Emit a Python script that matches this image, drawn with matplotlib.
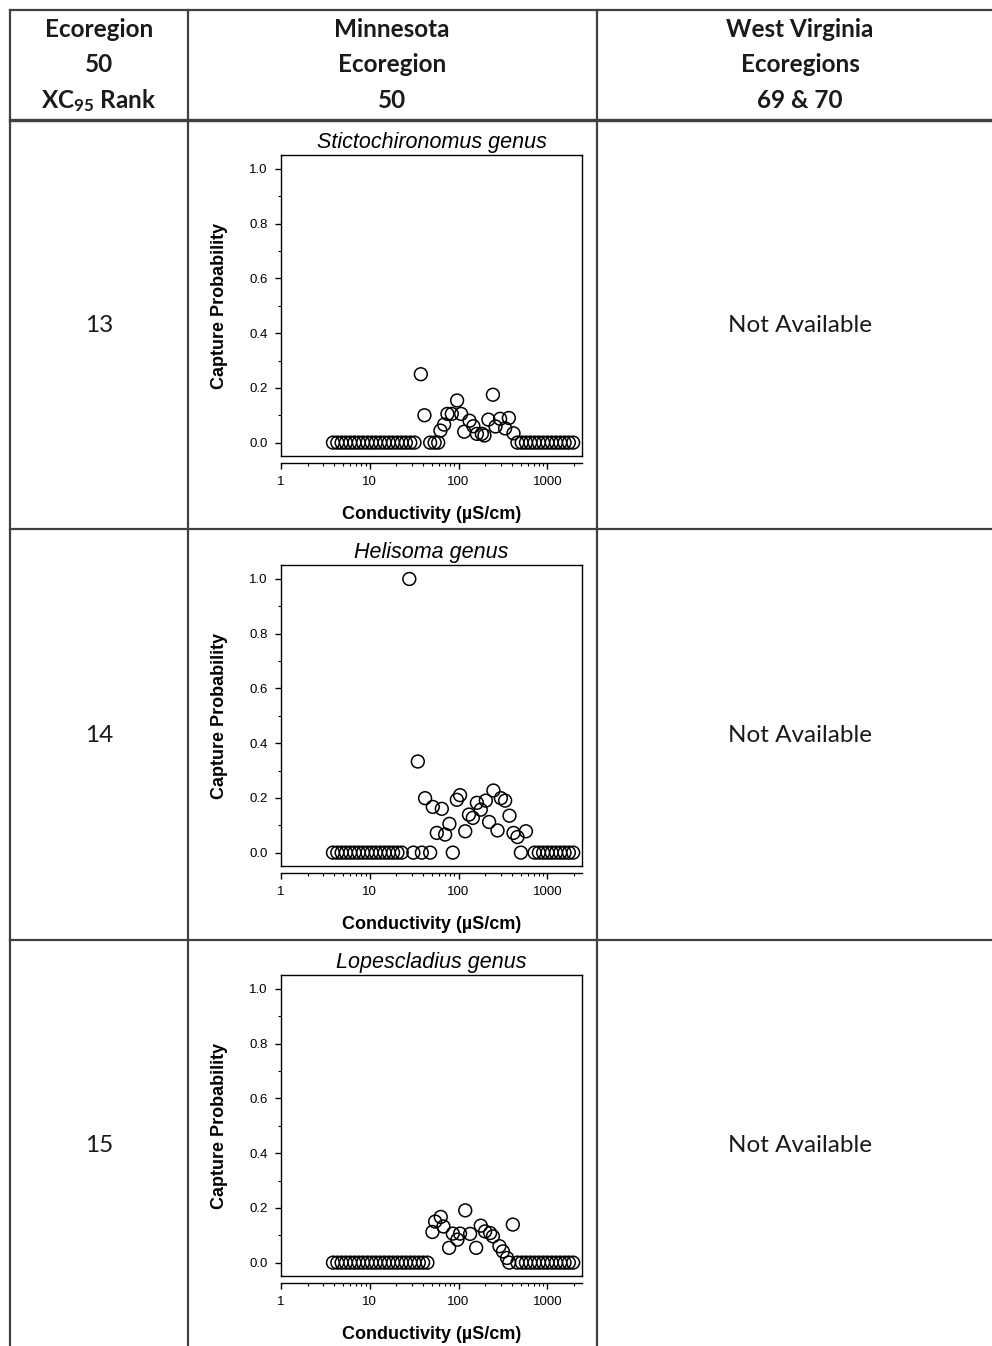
import matplotlib
matplotlib.use("Agg")
import matplotlib.pyplot as plt
from matplotlib.lines import Line2D
from matplotlib.ticker import LogLocator, NullFormatter, MultipleLocator

plt.rcParams["mathtext.fontset"] = "custom"
plt.rcParams["mathtext.rm"] = "Lato:bold"
plt.rcParams["mathtext.it"] = "Lato:bold"

# ============================================
# 1. Data
# ============================================
header_rank = ["Ecoregion", "50", "XC$\\mathrm{_{95}}$ Rank"]
header_mn = ["Minnesota", "Ecoregion", "50"]
header_wv = ["West Virginia", "Ecoregions", "69 & 70"]

ranks = ["13", "14", "15"]
taxa = ["Stictochironomus genus", "Helisoma genus", "Lopescladius genus"]
wv_text = "Not Available"

x_ticks = [1, 10, 100, 1000]
x_tick_labels = ["1", "10", "100", "1000"]
y_ticks = [0.0, 0.2, 0.4, 0.6, 0.8, 1.0]

# zero bins at the low and high ends of the conductivity range
low_bins = [3.85, 4.31, 4.82, 5.38, 6.02, 6.73, 7.52, 8.40, 9.39, 10.5,
            11.7, 13.1, 14.7, 16.4, 18.3, 20.5, 22.9, 25.5, 28.6, 31.9,
            35.7, 39.9, 44.6]
high_bins = [412, 461, 515, 575, 643, 719, 803, 898, 1004, 1122,
             1254, 1401, 1566, 1750, 1956]

# Stictochironomus
cond_1 = low_bins[:20] + [37.6, 41.3, 47.9, 53.8, 59.0, 62.5, 68.8, 75.0, 84.0,
                          96.4, 107, 116, 133, 147, 161, 183, 196, 217, 244,
                          261, 294, 335, 369, 416] + high_bins[1:]
prob_1 = [0.0] * 20 + [0.25, 0.10, 0.0, 0.0, 0.0, 0.044, 0.066, 0.105, 0.105,
                       0.154, 0.105, 0.04, 0.08, 0.06, 0.032, 0.032, 0.026, 0.084,
                       0.175, 0.059, 0.087, 0.052, 0.09, 0.034] + [0.0] * 14

# Helisoma
cond_2 = low_bins[:17] + [27.9, 31.0, 34.8, 38.6, 42.0, 47.9, 51.3, 56.9, 64.8,
                          70.6, 78.9, 86.2, 95.7, 104, 119, 131, 145, 161, 178,
                          203, 221, 247, 275, 300, 335, 375, 416, 461, 504,
                          574] + high_bins[5:]
prob_2 = [0.0] * 17 + [1.0, 0.0, 0.333, 0.0, 0.199, 0.0, 0.167, 0.072, 0.16,
                       0.066, 0.105, 0.0, 0.193, 0.21, 0.078, 0.139, 0.127, 0.182,
                       0.157, 0.19, 0.112, 0.227, 0.081, 0.199, 0.19, 0.135, 0.072,
                       0.057, 0.0, 0.078] + [0.0] * 10

# Lopescladius
cond_3 = low_bins + [50.8, 54.5, 63.1, 67.6, 78.3, 86.2, 97.2, 104, 119, 135,
                     158, 178, 199, 227, 244, 289, 316, 352, 372,
                     409] + high_bins[1:]
prob_3 = [0.0] * 23 + [0.112, 0.15, 0.167, 0.132, 0.054, 0.106, 0.084, 0.106,
                       0.191, 0.105, 0.054, 0.135, 0.114, 0.108, 0.096, 0.06,
                       0.041, 0.017, 0.0, 0.139] + [0.0] * 14

panels = [(cond_1, prob_1), (cond_2, prob_2), (cond_3, prob_3)]

# ============================================
# 2. Figure and table grid
# ============================================
W, H = 992, 1346
fig = plt.figure(figsize=(W / 100, H / 100), dpi=100)

line_col = "#404040"


def hline(y, x0, x1, lw=1.6):
    fig.add_artist(Line2D([x0 / W, x1 / W], [1 - y / H, 1 - y / H],
                          transform=fig.transFigure, color=line_col, lw=lw))


def vline(x, y0, y1, lw=1.6):
    fig.add_artist(Line2D([x / W, x / W], [1 - y0 / H, 1 - y1 / H],
                          transform=fig.transFigure, color=line_col, lw=lw))


hline(10, 10, W)
hline(120, 10, W, lw=2.4)
hline(529, 10, W)
hline(940, 10, W)
vline(10, 10, H)
vline(188, 10, H)
vline(597, 10, H)

head_font = dict(family="Lato", weight="bold", fontsize=17.5, ha="center",
                 va="center", color="#1a1a1a")
for i, txt in enumerate(header_rank):
    fig.text(99 / W, 1 - (29.5 + 35.5 * i) / H, txt, **head_font)
for i, txt in enumerate(header_mn):
    fig.text(392 / W, 1 - (29.5 + 35.5 * i) / H, txt, **head_font)
for i, txt in enumerate(header_wv):
    fig.text(800 / W, 1 - (29.5 + 35.5 * i) / H, txt, **head_font)

# ============================================
# 3. Capture probability panels
# ============================================
row_top = [120, 530, 940]
for r, (cond, prob) in enumerate(panels):
    top = row_top[r]
    fig.text(99 / W, 1 - (top + 206) / H, ranks[r], family="Lato",
             fontsize=17.5, ha="center", va="center", color="#1a1a1a")
    fig.text(800 / W, 1 - (top + 206) / H, wv_text, family="Lato",
             fontsize=17.5, ha="center", va="center", color="#1a1a1a")

    box_top = top + 35.3
    ax = fig.add_axes([281 / W, 1 - (box_top + 301) / H, 301 / W, 301 / H])
    ax.scatter(cond, prob, s=85, facecolors="none", edgecolors="black",
               linewidths=1.1, zorder=3, clip_on=False)

    ax.set_xscale("log")
    ax.set_xlim(1, 2460)
    ax.set_ylim(-0.05, 1.05)
    ax.set_xticks(x_ticks)
    ax.set_xticklabels(x_tick_labels)
    ax.xaxis.set_minor_locator(LogLocator(base=10, subs=range(2, 10)))
    ax.xaxis.set_minor_formatter(NullFormatter())
    ax.set_yticks(y_ticks)
    ax.set_yticklabels([f"{v:.1f}" for v in y_ticks])
    ax.yaxis.set_minor_locator(MultipleLocator(0.1))

    ax.spines["bottom"].set_position(("outward", 4.5))
    for sp in ax.spines.values():
        sp.set_linewidth(1.0)
    ax.plot([0, 1], [0, 0], transform=ax.transAxes, color="black", lw=1.0,
            clip_on=False)

    ax.tick_params(axis="both", which="major", direction="out", length=4.5,
                   width=1.0, labelsize=9.5, pad=5)
    ax.tick_params(axis="both", which="minor", direction="out", length=2.5,
                   width=0.8)
    for lab in ax.get_xticklabels() + ax.get_yticklabels():
        lab.set_family("Liberation Sans")

    ax.set_title(taxa[r], family="Liberation Sans", style="italic",
                 fontsize=15.5, pad=5)
    ax.set_xlabel("Conductivity (µS/cm)", family="Liberation Sans",
                  weight="bold", fontsize=13, labelpad=13.5)
    ax.set_ylabel("Capture Probability", family="Liberation Sans",
                  weight="bold", fontsize=13, labelpad=15)

fig.savefig("out.png", dpi=100)
